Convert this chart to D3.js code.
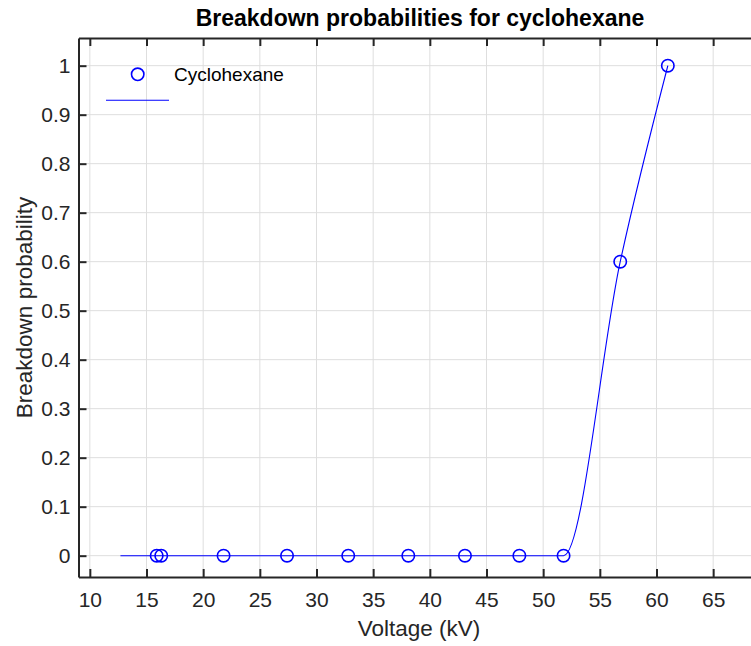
<!DOCTYPE html>
<html>
<head>
<meta charset="utf-8">
<script src="https://cdn.jsdelivr.net/npm/d3@7"></script>
<style>
  html, body { margin: 0; padding: 0; background: #fff; }
  svg { display: block; font-family: "Liberation Sans", Arial, Helvetica, sans-serif; }
</style>
</head>
<body>
<svg id="chart" width="751" height="646"></svg>
<script>
// Measured breakdown voltages (kV) and the observed probabilities
const voltage = [15.9, 16.3, 21.8, 27.4, 32.8, 38.1, 43.1, 47.9, 51.8, 56.8, 61.0];
const probability = [0, 0, 0, 0, 0, 0, 0, 0, 0, 0.6, 1.0];

// Knots of the interpolated curve
const curveVoltage = [12.7, 51.8, 56.8, 61.0];
const curveProbability = [0, 0, 0.6, 1.0];

const xTicks = [10, 15, 20, 25, 30, 35, 40, 45, 50, 55, 60, 65];
const yTicks = [0, 0.1, 0.2, 0.3, 0.4, 0.5, 0.6, 0.7, 0.8, 0.9, 1];

const seriesName = "Cyclohexane";
const titleText = "Breakdown probabilities for cyclohexane";
const xLabel = "Voltage (kV)";
const yLabel = "Breakdown probability";

const svg = d3.select("#chart");
const box = { left: 78.5, top: 38, bottom: 577, right: 758.5 };
const axisColor = "#262626";
const blue = "#0000ff";

const x = d3.scaleLinear().domain([9, 69]).range([box.left, box.right]);
const y = d3.scaleLinear().domain([-0.0435, 1.0565]).range([box.bottom, box.top]);

svg.append("defs").append("clipPath").attr("id", "plotClip")
  .append("rect")
  .attr("x", box.left).attr("y", box.top)
  .attr("width", box.right - box.left).attr("height", box.bottom - box.top);

// Grid
const grid = svg.append("g").attr("stroke", "#dedede").attr("stroke-width", 1);
grid.selectAll("line.vx").data(xTicks).join("line")
  .attr("x1", d => x(d)).attr("x2", d => x(d))
  .attr("y1", box.top).attr("y2", box.bottom);
grid.selectAll("line.hy").data(yTicks).join("line")
  .attr("x1", box.left).attr("x2", box.right)
  .attr("y1", d => y(d)).attr("y2", d => y(d));

// Axes with inward ticks
const tickLen = 8;
const fmtY = d => d === 0 || d === 1 ? String(d) : d3.format(".1f")(d);

const bottomAxis = svg.append("g")
  .attr("transform", `translate(0,${box.bottom})`)
  .call(d3.axisBottom(x).tickValues(xTicks).tickSizeInner(-tickLen).tickSizeOuter(0).tickPadding(14.8));
const topAxis = svg.append("g")
  .attr("transform", `translate(0,${box.top})`)
  .call(d3.axisTop(x).tickValues(xTicks).tickSizeInner(-tickLen).tickSizeOuter(0).tickFormat(""));
const leftAxis = svg.append("g")
  .attr("transform", `translate(${box.left},0)`)
  .call(d3.axisLeft(y).tickValues(yTicks).tickSizeInner(-tickLen).tickSizeOuter(0).tickPadding(8).tickFormat(fmtY));

[bottomAxis, topAxis, leftAxis].forEach(g => {
  g.select(".domain").attr("stroke", axisColor).attr("stroke-width", 2);
  g.selectAll(".tick line").attr("stroke", axisColor).attr("stroke-width", 2);
  g.selectAll(".tick text")
    .attr("fill", axisColor)
    .style("font-size", "21px")
    .style("font-family", "'Liberation Sans', Arial, sans-serif");
});

// Interpolated curve and data markers
const plot = svg.append("g").attr("clip-path", "url(#plotClip)");
const line = d3.line()
  .x(d => x(d[0])).y(d => y(d[1]))
  .curve(d3.curveMonotoneX);
plot.append("path")
  .datum(d3.zip(curveVoltage, curveProbability))
  .attr("d", line)
  .attr("fill", "none")
  .attr("stroke", blue)
  .attr("stroke-width", 1.1);

plot.selectAll("circle.pt").data(d3.zip(voltage, probability)).join("circle")
  .attr("class", "pt")
  .attr("cx", d => x(d[0])).attr("cy", d => y(d[1]))
  .attr("r", 6.2)
  .attr("fill", "none")
  .attr("stroke", blue)
  .attr("stroke-width", 1.6);

// Legend
const legend = svg.append("g");
legend.append("circle")
  .attr("cx", 137.7).attr("cy", 74.3).attr("r", 6.2)
  .attr("fill", "none").attr("stroke", blue).attr("stroke-width", 1.6);
legend.append("text")
  .attr("x", 174).attr("y", 81)
  .attr("fill", "#000")
  .style("font-size", "19px")
  .text(seriesName);
legend.append("line")
  .attr("x1", 106).attr("x2", 169).attr("y1", 100.3).attr("y2", 100.3)
  .attr("stroke", blue).attr("stroke-width", 1.1);

// Title and axis labels
svg.append("text")
  .attr("x", 420).attr("y", 26)
  .attr("text-anchor", "middle")
  .attr("fill", "#000")
  .style("font-size", "23px").style("font-weight", "bold")
  .text(titleText);

svg.append("text")
  .attr("x", 419).attr("y", 636)
  .attr("text-anchor", "middle")
  .attr("fill", axisColor)
  .style("font-size", "22.5px")
  .text(xLabel);

svg.append("text")
  .attr("transform", "translate(32,307.5) rotate(-90)")
  .attr("text-anchor", "middle")
  .attr("fill", axisColor)
  .style("font-size", "22.5px")
  .text(yLabel);
</script>
</body>
</html>
